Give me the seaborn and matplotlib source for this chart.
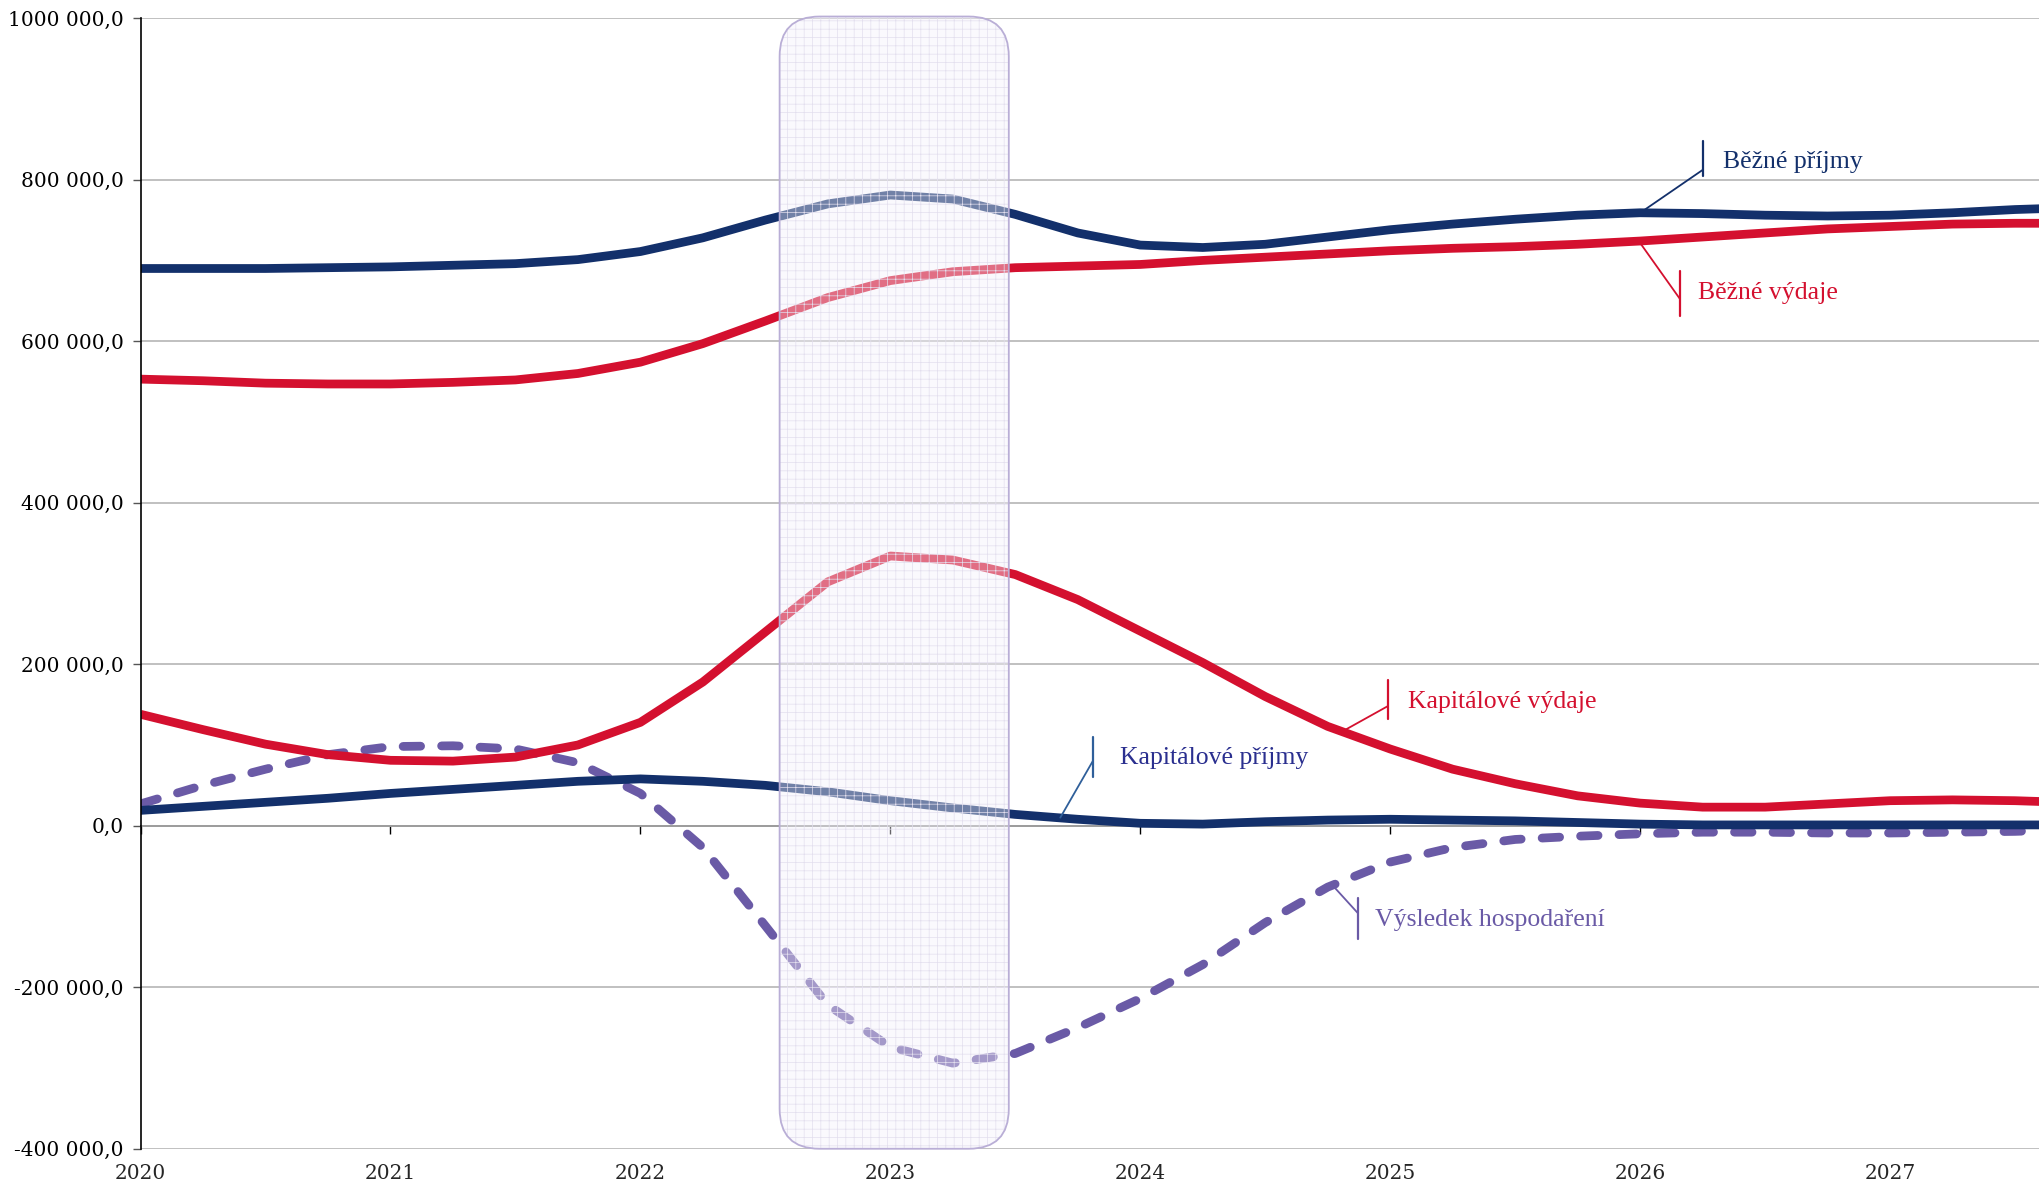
import numpy as np
import pandas as pd
import matplotlib
matplotlib.use("Agg")
import matplotlib.pyplot as plt
from matplotlib.patches import FancyBboxPatch
from matplotlib.ticker import FuncFormatter
import seaborn as sns

# ------------------------------------------------------------
# data (thousands CZK, quarterly steps)
# ------------------------------------------------------------
years = [2020.0, 2020.25, 2020.5, 2020.75, 2021.0, 2021.25, 2021.5, 2021.75,
         2022.0, 2022.25, 2022.5, 2022.75, 2023.0, 2023.25, 2023.5, 2023.75,
         2024.0, 2024.25, 2024.5, 2024.75, 2025.0, 2025.25, 2025.5, 2025.75,
         2026.0, 2026.25, 2026.5, 2026.75, 2027.0, 2027.25, 2027.5, 2027.6]

bezne_prijmy = [690, 690, 690, 691, 692, 694, 696, 701,
                711, 728, 750, 770, 781, 776, 757, 734,
                719, 716, 720, 729, 738, 745, 751, 756,
                759, 758, 756, 755, 756, 759, 763, 764]

bezne_vydaje = [553, 551, 548, 547, 547, 549, 552, 560,
                574, 597, 625, 654, 675, 686, 691, 693,
                695, 700, 704, 708, 712, 715, 717, 720,
                724, 729, 734, 739, 742, 745, 746, 746]

kapitalove_vydaje = [138, 119, 101, 88, 81, 80, 85, 100,
                     128, 178, 240, 302, 334, 329, 311, 280,
                     241, 202, 160, 123, 95, 70, 52, 37,
                     28, 23, 23, 27, 31, 32, 31, 30]

kapitalove_prijmy = [19, 24, 29, 34, 40, 45, 50, 55,
                     58, 55, 50, 42, 31, 22, 14, 8,
                     3, 2, 5, 7, 8, 7, 6, 4,
                     2, 1, 1, 1, 1, 1, 1, 1]

vysledek = [27, 50, 70, 88, 98, 99, 95, 78,
            40, -27, -124, -222, -274, -294, -282, -250,
            -214, -172, -120, -76, -45, -27, -17, -13,
            -10, -8, -8, -9, -9, -8, -7, -6]

year_ticks = [2020, 2021, 2022, 2023, 2024, 2025, 2026, 2027]
y_ticks = [-400000, -200000, 0, 200000, 400000, 600000, 800000, 1000000]

# highlighted period (rounded box)
box_x0, box_x1 = 2022.557, 2023.474
box_y0, box_y1 = -400000, 1002000

NAVY = "#13306b"
RED = "#d4102f"
PURPLE = "#6a5aa6"

# labels: text, text pos, bar x, bar y range, leader start y, curve point, colours
labels = [
    ("Běžné příjmy", 2026.33, 822000, 2026.25, (804000, 848000), 812000, (2026.01, 761000), NAVY, NAVY),
    ("Běžné výdaje", 2026.23, 660000, 2026.16, (631000, 687000), 652000, (2025.99, 726000), RED, RED),
    ("Kapitálové výdaje", 2025.07, 153000, 2024.99, (132000, 180000), 148000, (2024.81, 117000), RED, RED),
    ("Kapitálové příjmy", 2023.92, 84000, 2023.81, (60000, 110000), 80000, (2023.68, 10000), "#2a2f8f", "#2f5f9a"),
    ("Výsledek hospodaření", 2024.94, -117000, 2024.87, (-140000, -90000), -108000, (2024.77, -74000), PURPLE, PURPLE),
]

df = pd.DataFrame({
    "year": years,
    "Běžné příjmy": np.array(bezne_prijmy) * 1000,
    "Běžné výdaje": np.array(bezne_vydaje) * 1000,
    "Kapitálové příjmy": np.array(kapitalove_prijmy) * 1000,
    "Kapitálové výdaje": np.array(kapitalove_vydaje) * 1000,
    "Výsledek hospodaření": np.array(vysledek) * 1000,
})

# ------------------------------------------------------------
# figure
# ------------------------------------------------------------
sns.set_theme(style="white")
plt.rcParams["font.family"] = ["Liberation Serif", "DejaVu Serif"]
plt.rcParams["hatch.linewidth"] = 0.5

W, H = 20.4, 11.86
fig = plt.figure(figsize=(W, H), dpi=100)
ax_rect = [0.0689, 0.0314, 0.9311, 0.9533]
ax = fig.add_axes(ax_rect)

xmin, xmax = 2020.0, 2027.6
ymin, ymax = -400000, 1000000

LW = 6.3
kw = dict(lw=LW, zorder=3, solid_joinstyle="round", solid_capstyle="butt")
sns.lineplot(data=df, x="year", y="Běžné příjmy", ax=ax, color=NAVY, **kw)
sns.lineplot(data=df, x="year", y="Běžné výdaje", ax=ax, color=RED, **kw)
sns.lineplot(data=df, x="year", y="Výsledek hospodaření", ax=ax, color=PURPLE, lw=LW,
             linestyle=(0, (2.0, 2.4)), dash_capstyle="round", dash_joinstyle="round", zorder=3)
sns.lineplot(data=df, x="year", y="Kapitálové výdaje", ax=ax, color=RED, **kw)
sns.lineplot(data=df, x="year", y="Kapitálové příjmy", ax=ax, color=NAVY, **kw)

ax.set_xlim(xmin, xmax)
ax.set_ylim(ymin, ymax)
ax.set_xlabel("")
ax.set_ylabel("")

# grid + spines
ax.set_yticks(y_ticks)
ax.yaxis.grid(True, color="#b5b5b5", lw=1.2, zorder=0)
ax.xaxis.grid(False)
for s in ["top", "right", "bottom"]:
    ax.spines[s].set_visible(False)
ax.spines["left"].set_color("black")
ax.spines["left"].set_linewidth(1.2)
ax.spines["left"].set_zorder(4)

ax.yaxis.set_major_formatter(FuncFormatter(lambda v, p: "0,0" if v == 0 else
                                           (f"{int(v/1000)} 000,0" if abs(v) < 1e6 else "1000 000,0")))
ax.tick_params(axis="y", left=True, length=6, width=1, color="#555555", pad=6,
               labelsize=14.5, labelcolor="black")
for t in ax.get_yticklabels():
    t.set_family("DejaVu Serif")

# year labels at the bottom, tick marks on the zero line
ax.set_xticks(year_ticks)
ax.set_xticklabels([str(y) for y in year_ticks], family="DejaVu Serif", fontsize=14.5)
ax.tick_params(axis="x", bottom=True, length=0, pad=11)

zero_pos = (0 - ymin) / (ymax - ymin)
sec = ax.secondary_xaxis(zero_pos)
sec.set_xticks(year_ticks)
sec.set_xticklabels([])
sec.tick_params(axis="x", direction="out", length=6, width=1, color="black")
sec.spines["bottom"].set_color("black")
sec.spines["bottom"].set_linewidth(1.2)

# highlighted period (rounded, semi-transparent over the lines)
ax_w_px = ax_rect[2] * W * 100
ax_h_px = ax_rect[3] * H * 100
aspect = ((ymax - ymin) / ax_h_px) / ((xmax - xmin) / ax_w_px)
r = 0.16
fill = FancyBboxPatch((box_x0, box_y0), box_x1 - box_x0, box_y1 - box_y0,
                      boxstyle=f"round,pad=0,rounding_size={r}", mutation_aspect=aspect,
                      facecolor=(0.96, 0.95, 0.985, 0.42), edgecolor="#e3dfee",
                      hatch="++", lw=0, zorder=5, clip_on=False)
ax.add_patch(fill)
border = FancyBboxPatch((box_x0, box_y0), box_x1 - box_x0, box_y1 - box_y0,
                        boxstyle=f"round,pad=0,rounding_size={r}", mutation_aspect=aspect,
                        fill=False, edgecolor="#b9aed6", lw=1.3, zorder=6, clip_on=False)
ax.add_patch(border)

# series labels with leader lines
for text, tx, ty, bx, (by0, by1), ly, (cx, cy), tcol, lcol in labels:
    ax.plot([bx, bx], [by0, by1], color=lcol, lw=1.6, zorder=7)
    ax.plot([bx, cx], [ly, cy], color=lcol, lw=1.3, zorder=7)
    ax.text(tx, ty, text, color=tcol, fontsize=18.5, va="center", ha="left",
            family=["Liberation Serif", "DejaVu Serif"], zorder=8)

fig.savefig("out.png", dpi=100, facecolor="white")
